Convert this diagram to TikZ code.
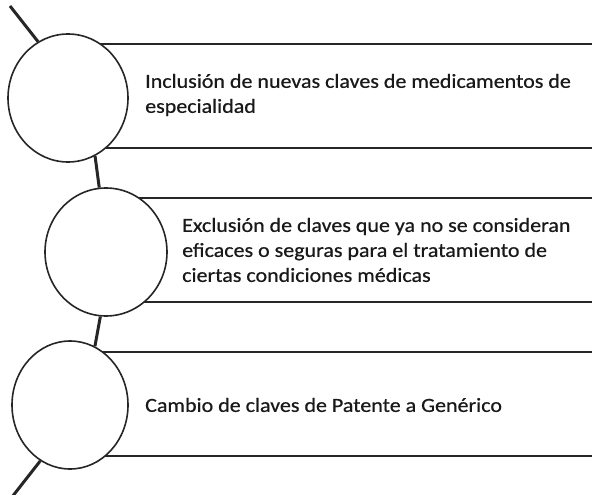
\documentclass[tikz,border=0pt]{standalone}
\usepackage{fontspec}
\setmainfont{Carlito}[FakeStretch=1.1,FakeBold=0.6]
\usetikzlibrary{shapes.geometric}
\begin{document}
\begin{tikzpicture}[x=1pt,y=-1pt,
  band/.style={line width=1.8pt,draw=black!85},
  ring/.style={ellipse,draw=black!85,line width=1.6pt,fill=white,inner sep=0pt,minimum width=#1,minimum height=128pt},
  link/.style={line width=3pt,draw=black!85},
  label/.style={anchor=west,align=left,inner sep=0pt,font=\fontsize{20}{25}\selectfont,text=black!90}]
\useasboundingbox (0,0) rectangle (592,495);
% bands
\draw[band] (68,44) -- (592,44);
\draw[band] (68,148) -- (592,148);
\draw[band] (106,198) -- (592,198);
\draw[band] (106,302) -- (592,302);
\draw[band] (70,352) -- (592,352);
\draw[band] (70,456) -- (592,456);
% circles
\node[ring=120pt] (c1) at (68,98) {};
\node[ring=122pt] (c2) at (106,252) {};
\node[ring=116pt] (c3) at (70,405) {};
\coordinate (top) at (10,6);
\coordinate (bot) at (12,497);
\draw[link] (top) -- (c1.118);
\draw[link] (c1.295) -- (c2.96);
\draw[link] (c2.265) -- (c3.67);
\draw[link] (c3.242) -- (bot);
% texts
\node[label] (t1) at (145,95) {Inclusión de nuevas claves de medicamentos de\\especialidad};
\node[label] (t2) at (182,250) {Exclusión de claves que ya no se consideran\\eficaces o seguras para el tratamiento de\\ciertas condiciones médicas};
\node[label] (t3) at (145,405) {Cambio de claves de Patente a Genérico};
\end{tikzpicture}
\end{document}
